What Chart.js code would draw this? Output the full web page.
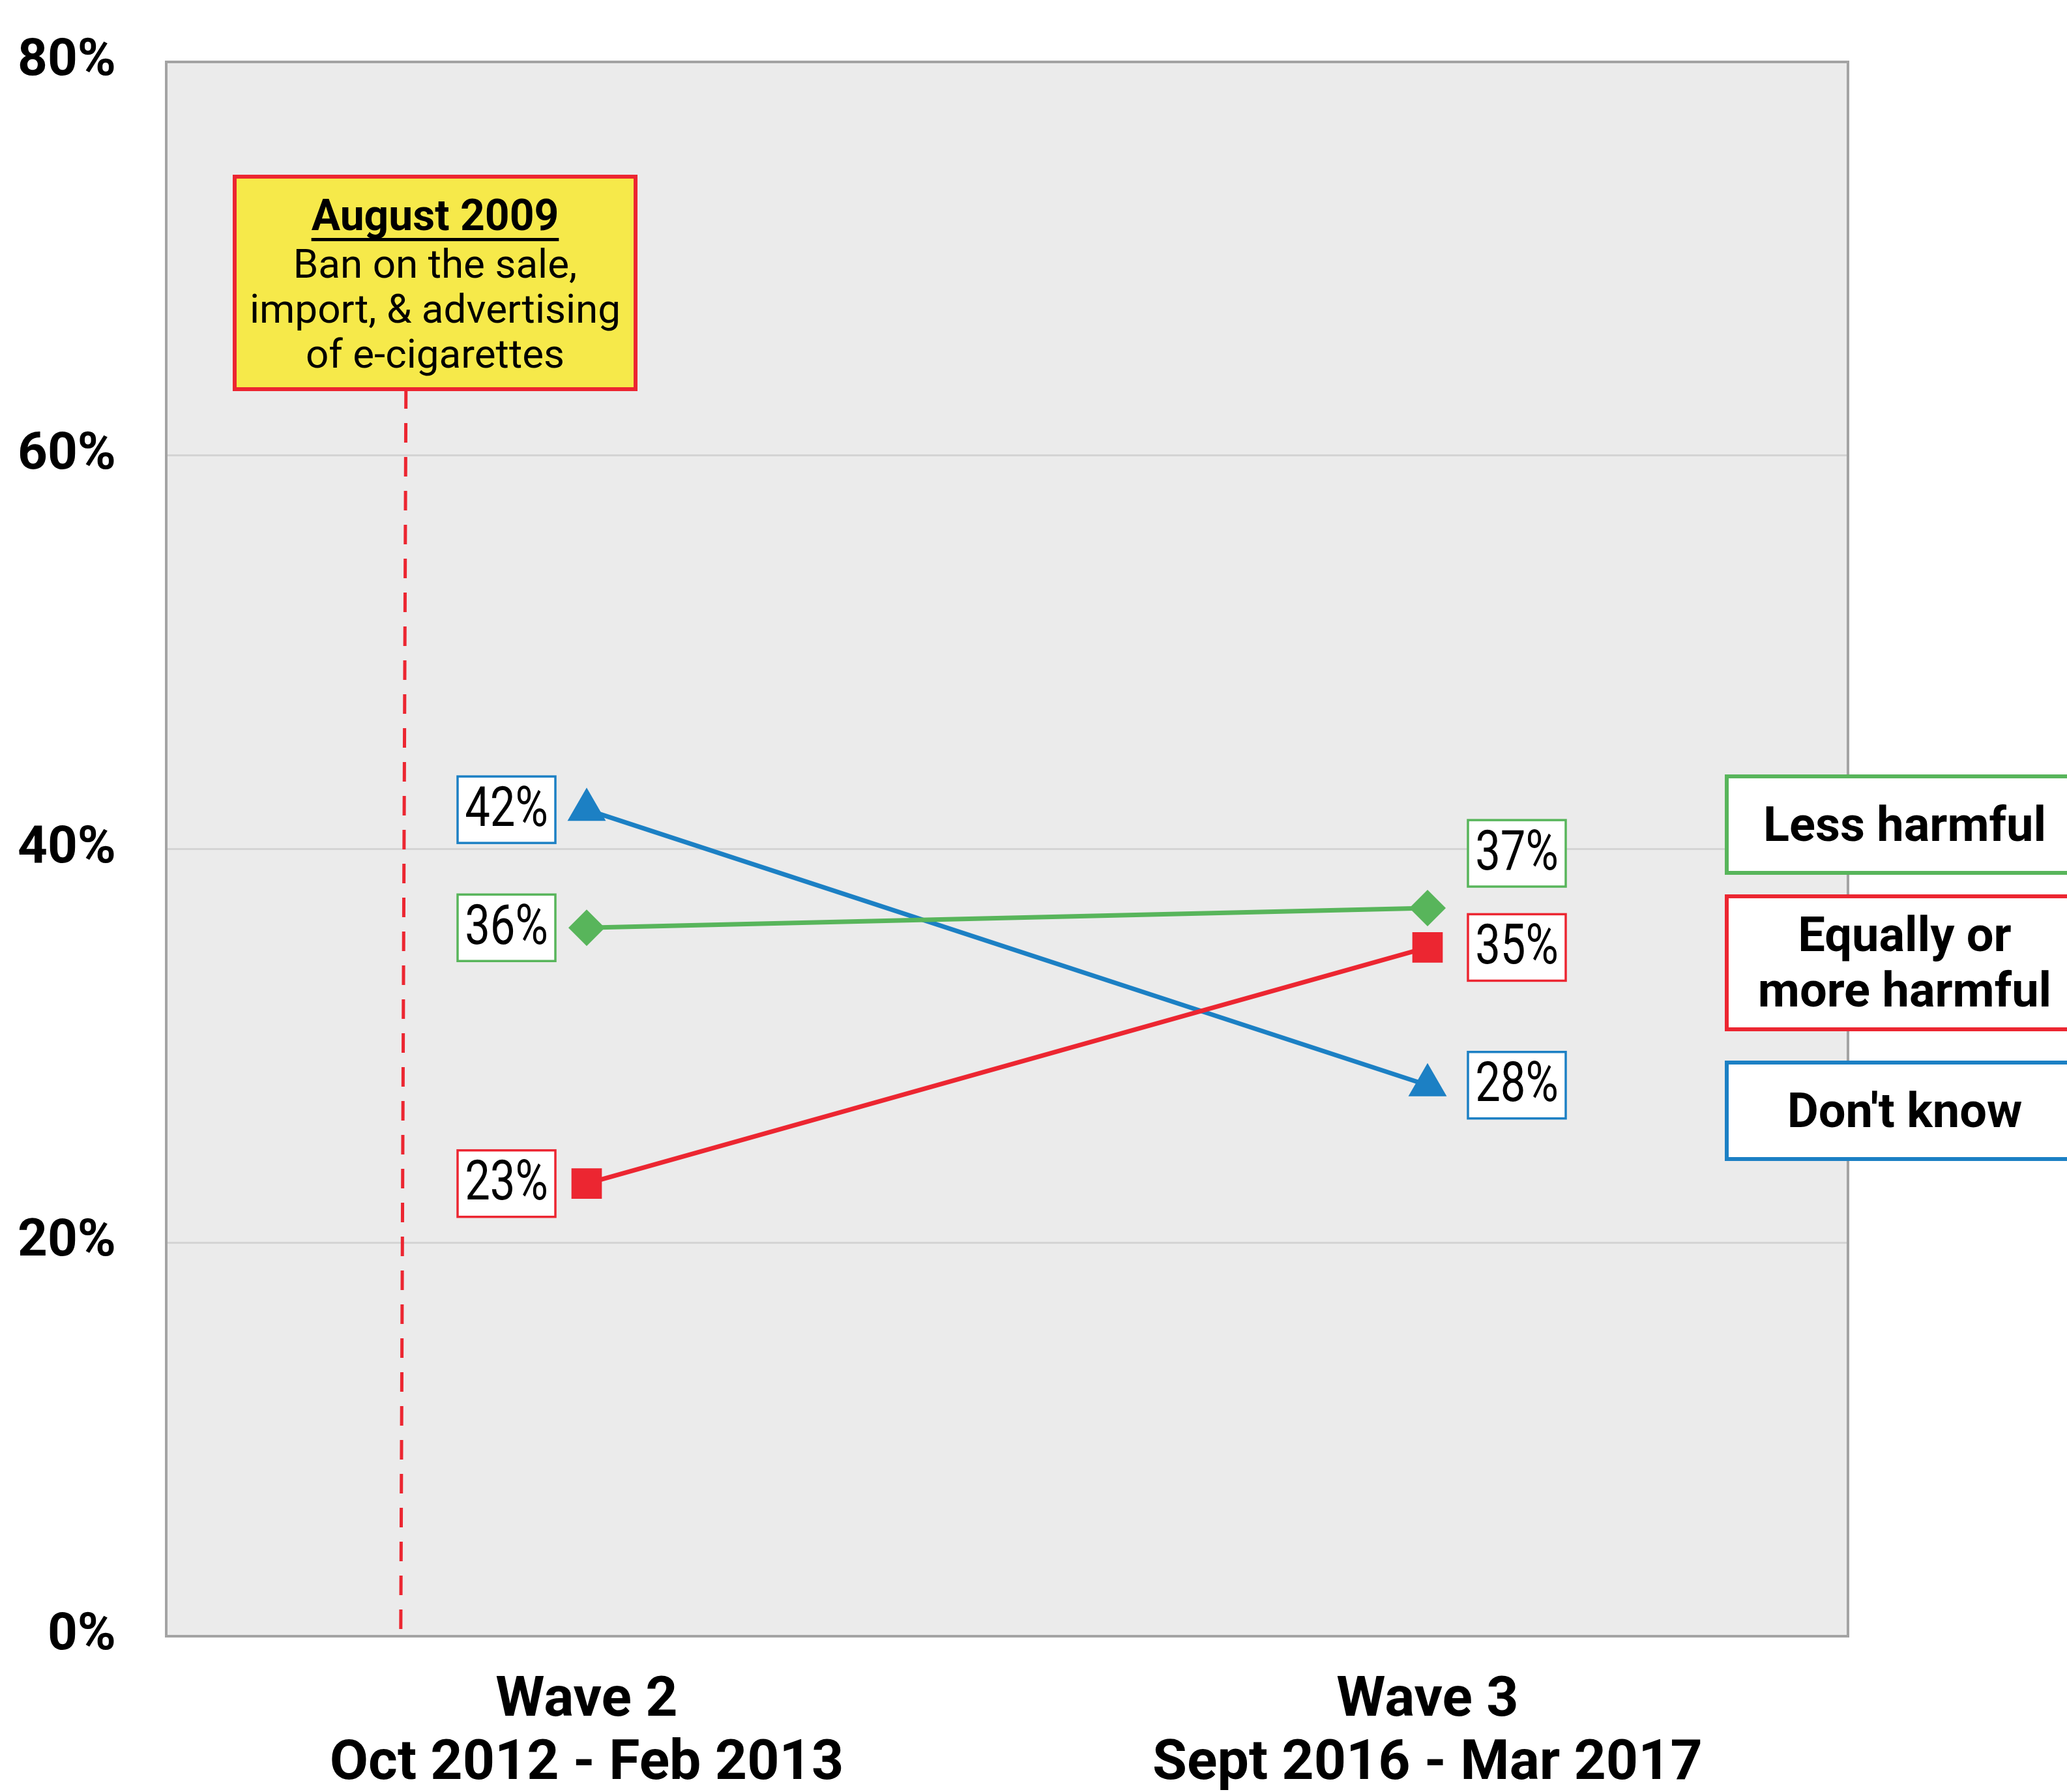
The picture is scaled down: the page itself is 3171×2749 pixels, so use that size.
<!DOCTYPE html>
<html>
<head>
<meta charset="utf-8">
<script src="https://cdn.jsdelivr.net/npm/chart.js@4.4.1/dist/chart.umd.min.js"></script>
<style>
  html, body { margin: 0; padding: 0; background: #ffffff; }
  canvas { display: block; }
</style>
</head>
<body>
<canvas id="chart" width="3171" height="2749"></canvas>
<script>
// ---- data -------------------------------------------------------------
const waves = [
  ['Wave 2', 'Oct 2012 - Feb 2013'],
  ['Wave 3', 'Sept 2016 - Mar 2017']
];
const lessHarmful = [36, 37];
const equallyOrMoreHarmful = [23, 35];
const dontKnow = [42, 28];
const seriesNames = ['Less harmful', 'Equally or\nmore harmful', "Don't know"];
const yTickValues = [0, 20, 40, 60, 80];
const policyNote = ['August 2009', 'Ban on the sale,', 'import, & advertising', 'of e-cigarettes'];

// ---- styling / layout ------------------------------------------------
const FONT = "Roboto, 'Open Sans', sans-serif";
const GREEN = '#58b55b';
const RED = '#ec2631';
const BLUE = '#1c80c4';
const PLOT_BG = '#ebebeb';
const FRAME = '#a3a3a3';

// position of the policy marker on the category axis (between the axis start and Wave 2)
const POLICY_X = -0.218;
const NOTE_BOX = { left: 360, right: 975, top: 271, bottom: 597 };
const NOTE_LINES_Y = [336, 410, 479, 548];

// value label boxes
const LABEL_W = 150, LABEL_H = 102;
const LABEL_GAP_LEFT = 48, LABEL_GAP_RIGHT = 62;
const labelNudgeY = [[0, -84], [0, 0], [0, 0]];

// series key boxes on the right
const KEY_LEFT = 2649, KEY_RIGHT = 3200, KEY_TEXT_X = 2922, KEY_LINE_H = 85;
const keyBoxes = [[1191, 1339], [1375, 1579], [1630, 1778]];

const plotFramePlugin = {
  id: 'plotFrame',
  beforeDraw(chart) {
    const { ctx, chartArea: a } = chart;
    ctx.save();
    ctx.fillStyle = PLOT_BG;
    ctx.fillRect(a.left, a.top, a.right - a.left, a.bottom - a.top);
    ctx.restore();
  },
  beforeDatasetsDraw(chart) {
    const { ctx, chartArea: a } = chart;
    ctx.save();
    // frame
    ctx.strokeStyle = FRAME;
    ctx.lineWidth = 4;
    ctx.strokeRect(a.left, a.top, a.right - a.left, a.bottom - a.top);

    // dashed policy marker
    const px = chart.scales.x.getPixelForValue(POLICY_X);
    ctx.strokeStyle = RED;
    ctx.lineWidth = 5;
    ctx.setLineDash([30, 22]);
    ctx.beginPath();
    ctx.moveTo(px + 4, NOTE_BOX.bottom);
    ctx.lineTo(px - 4, a.bottom);
    ctx.stroke();
    ctx.setLineDash([]);

    // policy note box
    ctx.fillStyle = '#f6e94a';
    ctx.fillRect(NOTE_BOX.left, NOTE_BOX.top, NOTE_BOX.right - NOTE_BOX.left, NOTE_BOX.bottom - NOTE_BOX.top);
    ctx.strokeStyle = RED;
    ctx.lineWidth = 6;
    ctx.strokeRect(NOTE_BOX.left, NOTE_BOX.top, NOTE_BOX.right - NOTE_BOX.left, NOTE_BOX.bottom - NOTE_BOX.top);

    const cx = (NOTE_BOX.left + NOTE_BOX.right) / 2;
    ctx.fillStyle = '#000';
    ctx.textAlign = 'center';
    ctx.textBaseline = 'middle';
    policyNote.forEach((line, i) => {
      ctx.font = (i === 0 ? 'bold 66px ' : '62px ') + FONT;
      ctx.fillText(line, cx, NOTE_LINES_Y[i]);
      if (i === 0) {
        const w = ctx.measureText(line).width;
        ctx.fillRect(cx - w / 2, NOTE_LINES_Y[i] + 29, w, 5);
      }
    });
    ctx.restore();
  },
  afterDatasetsDraw(chart) {
    const { ctx } = chart;
    ctx.save();
    chart.data.datasets.forEach((ds, di) => {
      const meta = chart.getDatasetMeta(di);
      meta.data.forEach((pt, i) => {
        const v = ds.data[i];
        const left = i === 0 ? pt.x - LABEL_GAP_LEFT - LABEL_W : pt.x + LABEL_GAP_RIGHT;
        const cy = pt.y + labelNudgeY[di][i];
        const top = cy - LABEL_H / 2;
        ctx.fillStyle = '#ffffff';
        ctx.fillRect(left, top, LABEL_W, LABEL_H);
        ctx.strokeStyle = ds.borderColor;
        ctx.lineWidth = 3.5;
        ctx.strokeRect(left, top, LABEL_W, LABEL_H);
        // narrow, tall figures
        ctx.save();
        ctx.translate(left + LABEL_W / 2, cy + 3);
        ctx.scale(0.8, 1);
        ctx.fillStyle = '#000';
        ctx.font = '86px ' + FONT;
        ctx.textAlign = 'center';
        ctx.textBaseline = 'middle';
        ctx.fillText(v + '%', 0, 0);
        ctx.restore();
      });
    });
    ctx.restore();
  },
  afterDraw(chart) {
    const { ctx } = chart;
    ctx.save();
    chart.data.datasets.forEach((ds, di) => {
      const [t, b] = keyBoxes[di];
      ctx.fillStyle = '#ffffff';
      ctx.fillRect(KEY_LEFT, t, KEY_RIGHT - KEY_LEFT, b - t);
      ctx.strokeStyle = ds.borderColor;
      ctx.lineWidth = 6;
      ctx.strokeRect(KEY_LEFT, t, KEY_RIGHT - KEY_LEFT, b - t);
      const lines = ds.label.split('\n');
      ctx.fillStyle = '#000';
      ctx.font = 'bold 74px ' + FONT;
      ctx.textAlign = 'center';
      ctx.textBaseline = 'middle';
      const mid = (t + b) / 2;
      lines.forEach((line, i) => {
        const y = mid + (i - (lines.length - 1) / 2) * KEY_LINE_H;
        ctx.fillText(line, KEY_TEXT_X, y + 6);
      });
    });
    ctx.restore();
  }
};

const pointDefaults = { borderWidth: 7, pointBorderWidth: 0, tension: 0, clip: false };

new Chart(document.getElementById('chart'), {
  type: 'line',
  data: {
    labels: waves,
    datasets: [
      Object.assign({ label: seriesNames[0], data: lessHarmful, borderColor: GREEN, backgroundColor: GREEN,
        pointBackgroundColor: GREEN, pointStyle: 'rectRot', pointRadius: 28 }, pointDefaults),
      Object.assign({ label: seriesNames[1], data: equallyOrMoreHarmful, borderColor: RED, backgroundColor: RED,
        pointBackgroundColor: RED, pointStyle: 'rect', pointRadius: 33 }, pointDefaults),
      Object.assign({ label: seriesNames[2], data: dontKnow, borderColor: BLUE, backgroundColor: BLUE,
        pointBackgroundColor: BLUE, pointStyle: 'triangle', pointRadius: 34 }, pointDefaults)
    ]
  },
  options: {
    responsive: false,
    animation: false,
    devicePixelRatio: 1,
    layout: { padding: { left: 0, right: 336, top: 95, bottom: 0 } },
    elements: { point: { hitRadius: 0, hoverRadius: 0 } },
    scales: {
      x: {
        offset: true,
        grid: { display: false },
        border: { display: false },
        ticks: {
          color: '#000',
          font: { family: FONT, size: 86, weight: 'bold', lineHeight: 1.13 },
          padding: 44,
          maxRotation: 0,
          autoSkip: false
        },
        afterFit(scale) {
          scale.height = 239;
          scale.paddingLeft = 0;
          scale.paddingRight = 0;
        }
      },
      y: {
        min: 0,
        max: 80,
        afterBuildTicks(scale) { scale.ticks = yTickValues.map(v => ({ value: v })); },
        ticks: {
          color: '#000',
          font: { family: FONT, size: 80, weight: 'bold' },
          padding: 77,
          callback: v => v + '%'
        },
        grid: { color: '#d4d4d4', lineWidth: 3, drawTicks: false },
        border: { display: false },
        afterFit(scale) {
          scale.width = 255;
          scale.paddingTop = 0;
          scale.paddingBottom = 0;
        }
      }
    },
    plugins: {
      legend: { display: false },
      tooltip: { enabled: false }
    }
  },
  plugins: [plotFramePlugin]
});
</script>
</body>
</html>
